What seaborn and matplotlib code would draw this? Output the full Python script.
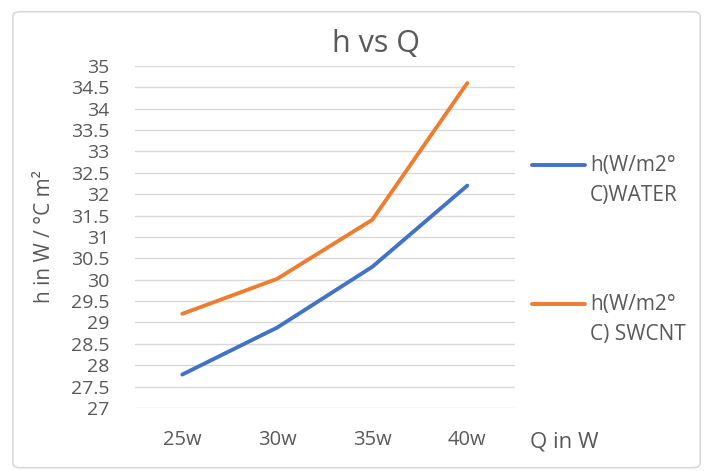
import matplotlib
matplotlib.use("Agg")
import matplotlib.pyplot as plt
from matplotlib.patches import FancyBboxPatch
import pandas as pd
import seaborn as sns

# values
CATEGORIES = ["25w", "30w", "35w", "40w"]
WATER = [27.78, 28.88, 30.3, 32.2]
SWCNT = [29.2, 30.02, 31.4, 34.6]
SERIES_NAMES = ["h(W/m2°\nC)WATER", "h(W/m2°\nC) SWCNT"]
Y_TICKS = [27 + 0.5 * i for i in range(17)]

BLUE = "#4472C4"
ORANGE = "#ED7D31"
GREY_TEXT = "#595959"
GRID = "#D9D9D9"


def build_frame() -> pd.DataFrame:
    rows = []
    for name, values in zip(SERIES_NAMES, [WATER, SWCNT]):
        for cat, val in zip(CATEGORIES, values):
            rows.append({"Q": cat, "h": val, "series": name})
    return pd.DataFrame(rows)


def main() -> None:
    sns.set_theme(style="white")
    plt.rcParams["font.family"] = ["Open Sans", "DejaVu Sans"]

    fig = plt.figure(figsize=(7.13, 4.71), dpi=100)
    fig.patches.append(
        FancyBboxPatch(
            (0.018, 0.007), 0.964, 0.968,
            boxstyle="round,pad=0,rounding_size=0.01",
            transform=fig.transFigure, facecolor="white",
            edgecolor=GRID, linewidth=1.2, zorder=-5,
        )
    )
    ax = fig.add_axes([0.189, 0.134, 0.533, 0.726])
    ax.set_facecolor("none")

    frame = build_frame()
    sns.lineplot(
        data=frame, x="Q", y="h", hue="series",
        palette=[BLUE, ORANGE], linewidth=2.8, ax=ax, sort=False,
    )

    ax.set_xlim(-0.5, len(CATEGORIES) - 0.5)
    ax.set_ylim(27, 35)
    ax.set_yticks(Y_TICKS)
    ax.set_yticklabels([f"{t:g}" for t in Y_TICKS])
    ax.yaxis.grid(True, color=GRID, linewidth=1.0)
    ax.xaxis.grid(False)
    ax.set_axisbelow(True)
    for spine in ax.spines.values():
        spine.set_visible(False)
    ax.tick_params(axis="y", length=0, pad=18, labelsize=14, labelcolor=GREY_TEXT)
    ax.tick_params(axis="x", length=0, pad=16, labelsize=14.5, labelcolor=GREY_TEXT)

    # Excel centres the title over the whole chart area, not the plot
    ax.set_title("h vs Q", fontsize=22, color=GREY_TEXT, pad=10, x=0.634)
    ax.set_xlabel("Q in W", fontsize=16, color=GREY_TEXT, ha="left", va="center")
    ax.xaxis.set_label_coords(1.04, -0.1)
    ax.set_ylabel("h in W / °C m²", fontsize=15, color=GREY_TEXT, va="center")
    ax.yaxis.set_label_coords(-0.237, 0.5)

    sns.move_legend(
        ax, "upper left", bbox_to_anchor=(1.045, 0.74), frameon=False,
        title=None, labelspacing=4.23, handlelength=2.55, handletextpad=0.25,
        fontsize=15, borderpad=0, borderaxespad=0,
    )
    legend = ax.get_legend()
    for text in legend.get_texts():
        text.set_color(GREY_TEXT)
        text.set_linespacing(1.57)
    # Excel puts the swatch level with the first text line, not the middle
    for handle in legend.legend_handles:
        handle.set_ydata([y + 11.8 for y in handle.get_ydata()])

    fig.savefig("out.png", dpi=100)
    plt.close(fig)


if __name__ == "__main__":
    main()
